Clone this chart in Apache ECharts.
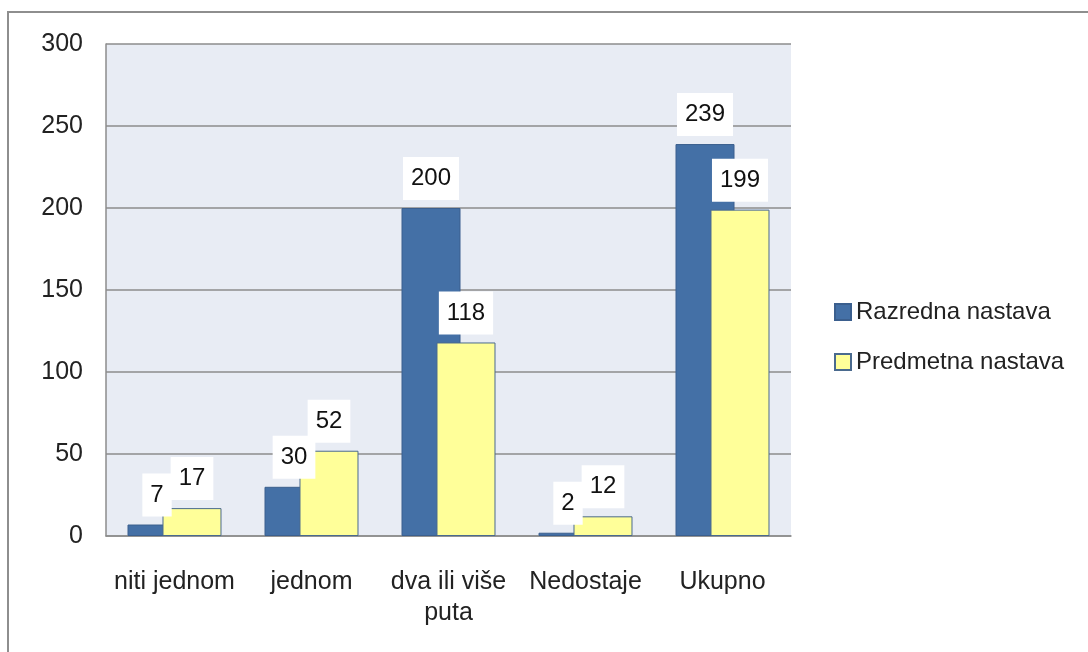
<!DOCTYPE html>
<html>
<head>
<meta charset="utf-8">
<script src="https://cdn.jsdelivr.net/npm/echarts@6/dist/echarts.min.js"></script>
<style>
  html, body { margin: 0; padding: 0; background: #ffffff; }
  #chart { width: 1088px; height: 652px; }
</style>
</head>
<body>
<div id="chart"></div>
<script>
// Categories and series values
const categories = ['niti jednom', 'jednom', 'dva ili više\nputa', 'Nedostaje', 'Ukupno'];
const razrednaNastava = [7, 30, 200, 2, 239];
const predmetnaNastava = [17, 52, 118, 12, 199];
const seriesNames = ['Razredna nastava', 'Predmetna nastava'];
const yTicks = { min: 0, max: 300, interval: 50 };

const FONT = '"Liberation Sans", Arial, sans-serif';
const TEXT = '#222222';

const valueLabel = {
  show: true,
  position: 'top',
  distance: 8,
  color: '#111111',
  fontFamily: FONT,
  fontSize: 24,
  backgroundColor: '#ffffff',
  padding: [9, 8],
  lineHeight: 25
};

const chart = echarts.init(document.getElementById('chart'), null, { renderer: 'canvas' });

chart.setOption({
  animation: false,
  backgroundColor: '#ffffff',
  textStyle: { fontFamily: FONT },
  graphic: [{
    type: 'rect',
    silent: true,
    z: -10,
    shape: { x: 8, y: 12, width: 1200, height: 800 },
    style: { fill: 'none', stroke: '#8e8e8e', lineWidth: 2 }
  }],
  grid: {
    left: 106, top: 44, right: 297, bottom: 116,
    show: true,
    backgroundColor: '#e8ecf4',
    borderWidth: 0
  },
  legend: {
    orient: 'vertical',
    left: 834,
    top: 300,
    padding: 0,
    itemWidth: 16,
    itemHeight: 16,
    itemGap: 26,
    icon: 'rect',
    textStyle: { color: TEXT, fontSize: 24, fontFamily: FONT },
    data: seriesNames
  },
  xAxis: {
    type: 'category',
    data: categories,
    axisLine: { show: true, lineStyle: { color: '#8c8c8c', width: 1.5 } },
    axisTick: { show: false },
    axisLabel: {
      color: TEXT, fontSize: 25, fontFamily: FONT, margin: 31, lineHeight: 31, interval: 0
    }
  },
  yAxis: {
    type: 'value',
    min: yTicks.min,
    max: yTicks.max,
    interval: yTicks.interval,
    axisLine: { show: true, lineStyle: { color: '#8c8c8c', width: 1.5 } },
    axisTick: { show: false },
    splitLine: { show: true, lineStyle: { color: '#8c8c8c', width: 1.5 } },
    axisLabel: { color: TEXT, fontSize: 25, fontFamily: FONT, margin: 23 }
  },
  series: [
    {
      name: seriesNames[0],
      type: 'bar',
      data: razrednaNastava,
      barWidth: 59,
      barGap: '-40.7%',
      itemStyle: { color: '#4470a6', borderColor: '#3b5f8e', borderWidth: 1 },
      label: valueLabel
    },
    {
      name: seriesNames[1],
      type: 'bar',
      data: predmetnaNastava,
      barWidth: 59,
      barGap: '-40.7%',
      itemStyle: { color: '#ffff99', borderColor: '#4a6a8e', borderWidth: 1 },
      label: valueLabel
    }
  ]
});
</script>
</body>
</html>
